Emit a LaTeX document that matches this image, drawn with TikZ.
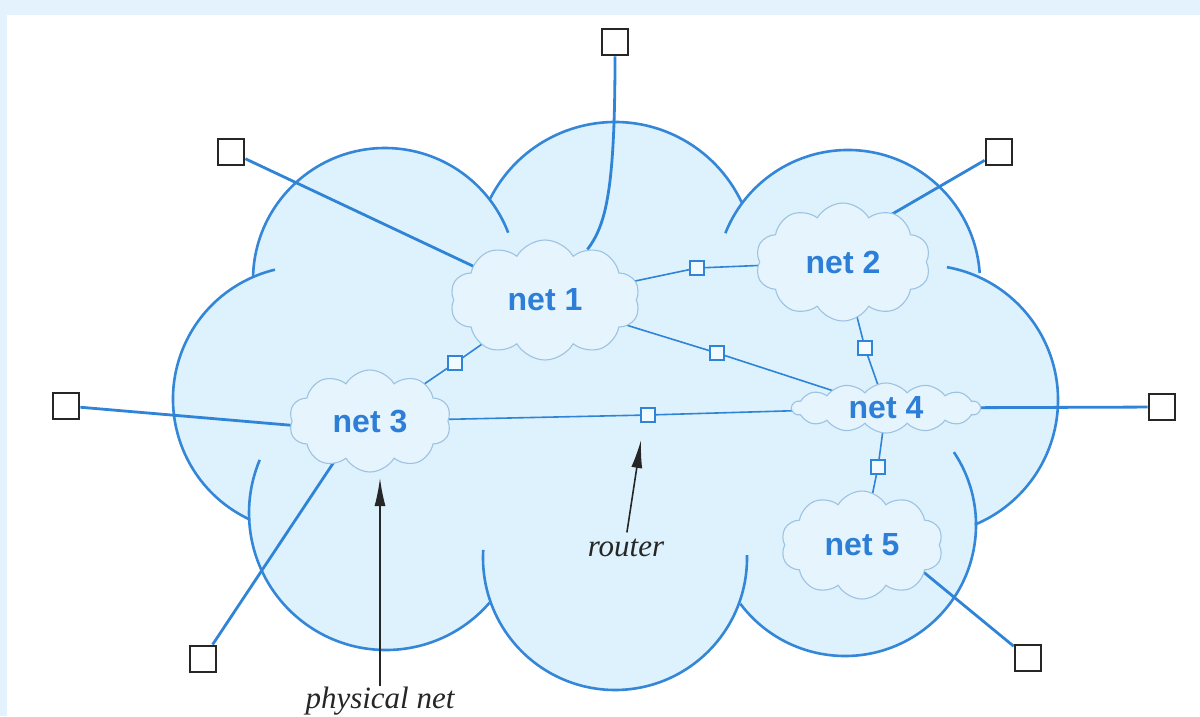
\documentclass[tikz,border=0pt]{standalone}
\usepackage{fontspec}
\setmainfont{Liberation Serif}
\newfontfamily\netfont{Liberation Sans}
\usetikzlibrary{shapes.symbols,arrows.meta}
\definecolor{bgblue}{HTML}{E3F2FD}
\definecolor{cloudfill}{HTML}{DDF2FC}
\definecolor{cloudline}{HTML}{3486D8}
\definecolor{netfill}{HTML}{E6F5FD}
\definecolor{netline}{HTML}{9DC2E2}
\definecolor{nettext}{HTML}{2C7ED6}
\definecolor{linkblue}{HTML}{2F84D8}
\pgfdeclarelayer{bg}
\pgfsetlayers{bg,main}
\begin{document}
\begin{tikzpicture}[x=1pt,y=-1pt,
  netcloud/.style={cloud, cloud puffs=10, cloud puff arc=120, cloud ignores aspect, draw=netline, line width=1.1pt, fill=netfill, inner sep=0pt, text=nettext, font=\netfont\bfseries\fontsize{32}{34}\selectfont},
  host/.style={draw=black!85, line width=2.8pt, fill=white, minimum size=26pt, inner sep=0pt},
  router/.style={draw=linkblue, line width=1.3pt, fill=white!60!cloudfill, minimum size=14pt, inner sep=0pt},
  uplink/.style={draw=linkblue, line width=2.8pt},
  rlink/.style={draw=linkblue, line width=1.6pt},
  outline/.style={draw=cloudline, line width=2.6pt},
  lbl/.style={font=\itshape\fontsize{31}{34}\selectfont, text=black!85, inner sep=0pt, anchor=base},
  pointer/.style={draw=black!85, line width=1.6pt, -{Latex[length=28pt,width=11pt]}}
]
\useasboundingbox (0,0) rectangle (1200,716);

% small networks
\node[netcloud, minimum width=190pt, minimum height=120pt] (n1) at (545,300) {net 1};
\node[netcloud, minimum width=175pt, minimum height=118pt] (n2) at (843,262) {net 2};
\node[netcloud, minimum width=162pt, minimum height=102pt] (n3) at (370,421) {net 3};
\node[netcloud, cloud puffs=14, cloud puff arc=100, minimum width=188pt, minimum height=50pt] (n4) at (886,408) {net 4};
\node[netcloud, minimum width=162pt, minimum height=108pt] (n5) at (862,545) {net 5};

% hosts
\node[host] (h1) at (615,42) {};
\node[host] (h2) at (231,152) {};
\node[host] (h3) at (999,152) {};
\node[host] (h4) at (66,406) {};
\node[host] (h5) at (1162,407) {};
\node[host] (h6) at (203,659) {};
\node[host] (h7) at (1028,658) {};

% routers
\node[router] (r1) at (455,363) {};
\node[router] (r2) at (697,268) {};
\node[router] (r3) at (717,353) {};
\node[router] (r4) at (865,348) {};
\node[router] (r5) at (648,415) {};
\node[router] (r6) at (878,467) {};

% labels
\node[lbl] (l1) at (380,708) {physical net};
\node[lbl] (l2) at (626,556) {router};
\coordinate (t1) at (380,478);
\coordinate (t2) at (641,440);

\begin{pgfonlayer}{bg}
\fill[bgblue] (0,0) rectangle (1200,716);
\fill[white] (7,15) rectangle (1200,716);
% internet cloud
\fill[cloudfill]
 ([shift={(-179.1:132)}]385,280) arc[start angle=-179.1,end angle=-37.6,radius=132]
 -- ([shift={(-153.5:140)}]615,262) arc[start angle=-153.5,end angle=-25,radius=140]
 -- ([shift={(-143.3:132)}]848,282) arc[start angle=-143.3,end angle=-3.9,radius=132]
 -- ([shift={(-65.8:135)}]923,400) arc[start angle=-65.8,end angle=67.4,radius=135]
 -- ([shift={(0:131)}]845,525) arc[start angle=0,end angle=143,radius=131]
 -- ([shift={(20.2:132)}]615,558) arc[start angle=20.2,end angle=160.2,radius=132]
 -- ([shift={(40.9:137)}]386,513) arc[start angle=40.9,end angle=177,radius=137]
 -- ([shift={(114.8:133)}]306,399) arc[start angle=114.8,end angle=246.3,radius=133]
 -- cycle;
\draw[outline] ([shift={(-179.1:132)}]385,280) arc[start angle=-179.1,end angle=-21,radius=132];
\draw[outline] ([shift={(-153.5:140)}]615,262) arc[start angle=-153.5,end angle=-25,radius=140];
\draw[outline] ([shift={(-158.3:132)}]848,282) arc[start angle=-158.3,end angle=-3.9,radius=132];
\draw[outline] ([shift={(-79.8:135)}]923,400) arc[start angle=-79.8,end angle=67.4,radius=135];
\draw[outline] ([shift={(-33.8:131)}]845,525) arc[start angle=-33.8,end angle=143,radius=131];
\draw[outline] ([shift={(-1.3:132)}]615,558) arc[start angle=-1.3,end angle=183.5,radius=132];
\draw[outline] ([shift={(40.9:137)}]386,513) arc[start angle=40.9,end angle=202.8,radius=137];
\draw[outline] ([shift={(114.8:133)}]306,399) arc[start angle=114.8,end angle=256.5,radius=133];

% host connections
\draw[uplink] (h1.south) .. controls (615,190) and (606,225) .. (n1.50);
\draw[uplink] (h2) -- (n1.center);
\draw[uplink, shorten >=-8pt] (h3) -- (n2.44);
\draw[uplink, shorten >=-8pt] (h4) -- (n3.183);
\draw[uplink] (h5) -- (n4.center);
\draw[uplink, shorten >=-8pt] (h6) -- (n3.229);
\draw[uplink, shorten >=-8pt] (h7) -- (n5.-24);

% router connections
\draw[rlink] (n3.center) -- (r1) -- (n1.center);
\draw[rlink] (n1.center) -- (r2) -- (n2.center);
\draw[rlink] (n1.center) -- (r3) -- (n4.center);
\draw[rlink] (n2.center) -- (r4) -- (n4.center);
\draw[rlink] (n3.center) -- (r5) -- (n4.center);
\draw[rlink] (n4.center) -- (r6) -- (n5.center);
\end{pgfonlayer}

% pointers
\draw[pointer] (l1.north) -- (t1);
\draw[pointer, shorten <=6pt] (l2.north) -- (t2);
\end{tikzpicture}
\end{document}
